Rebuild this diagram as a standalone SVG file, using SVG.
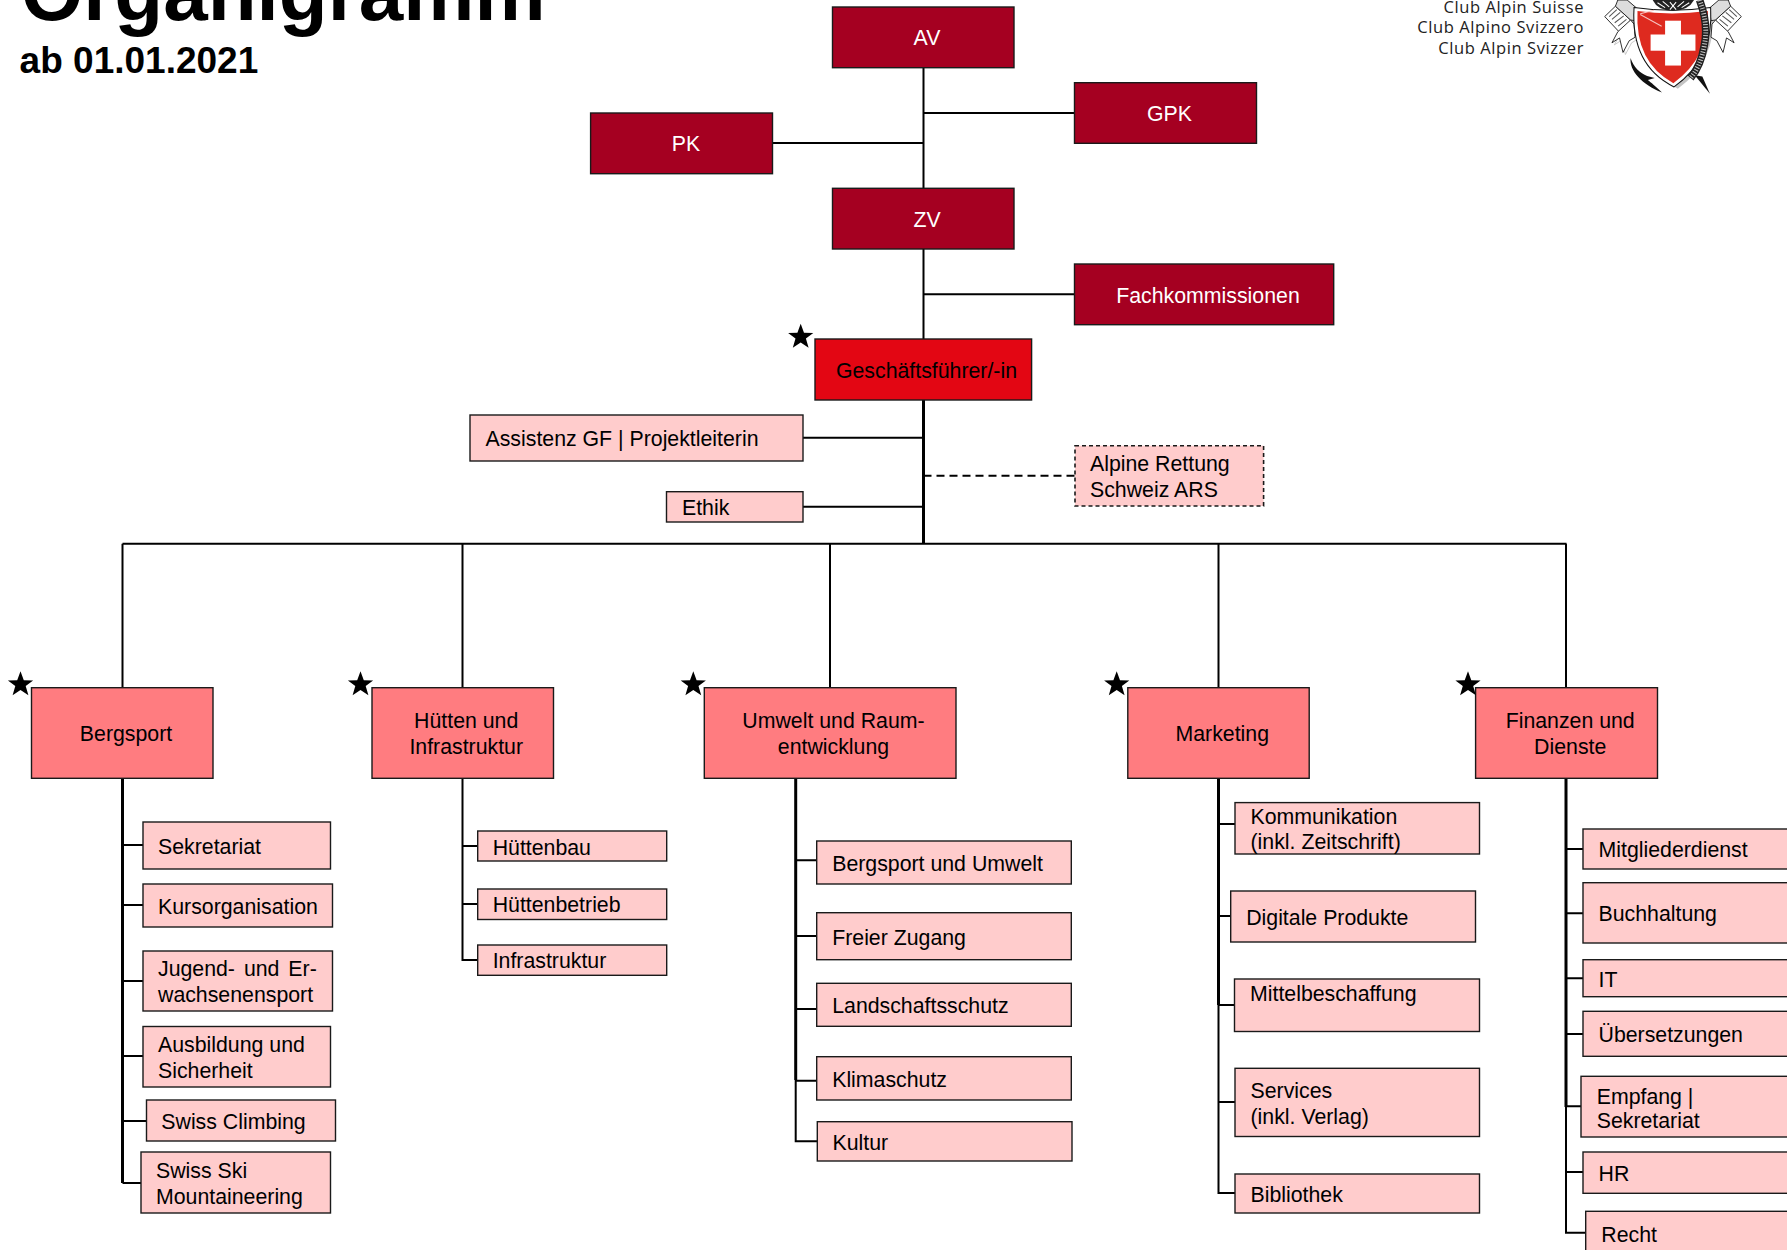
<svg xmlns="http://www.w3.org/2000/svg" width="1787" height="1250" viewBox="0 0 1787 1250">
<style>
text{font-family:"Liberation Sans",Arial,sans-serif;font-size:21.3px;fill:#000}
.c{text-anchor:middle}
.w{fill:#fff}
rect{stroke:#1a1a1a;stroke-width:1.4}
.top{fill:#A50021}
.gf{fill:#E30613}
.div{fill:#FF7C80}
.sub{fill:#FFCCCC}
.dash{stroke-dasharray:4 3;stroke-width:1.6}
#connectors path{fill:none;stroke:#000;stroke-width:2}
#connectors .thick{stroke-width:3}
#connectors .dashed{stroke-dasharray:8 5}
.logo-t{font-family:"Open Sans","Noto Sans",sans-serif;font-size:16.5px;letter-spacing:.58px;fill:#222;text-anchor:end}
.title{font-weight:bold}
</style>
<defs>
<polygon id="star" points="0,-13.2 3.3,-4.2 12.6,-4.1 5.2,1.6 7.9,10.8 0,5.4 -7.9,10.8 -5.2,1.6 -12.6,-4.1 -3.3,-4.2" fill="#000"/>
<g id="rib">
<path d="M47 48L78 18L122 58L96 100Z" fill="#fff" stroke="#111" stroke-width="2.5"/>
<path d="M85 0L112 0L140 24L135 60L122 58L78 18Z" fill="#ddd" stroke="#111" stroke-width="2.5"/>
<path d="M85 92L68 124L90 110L100 152L118 118L135 108L132 70L122 58Z" fill="#fff" stroke="#111" stroke-width="2.5"/>
<path d="M60 48L82 28M68 56L92 36M76 66L102 46M86 76L110 56" stroke="#555" stroke-width="3"/>
</g>
</defs>
<g id="title">
<text class="title" x="21" y="20" style="font-size:80px">Organigramm</text>
<text class="title" x="19.6" y="73" style="font-size:37px">ab 01.01.2021</text>
</g>
<g id="logo">
<text class="logo-t" x="1584" y="13">Club Alpin Suisse</text>
<text class="logo-t" x="1584" y="33.3">Club Alpino Svizzero</text>
<text class="logo-t" x="1584" y="53.5">Club Alpin Svizzer</text>
<g transform="translate(1588.5 0) scale(.345)">
<path d="M135 30Q240 45 352 30Q362 170 250 250Q130 190 135 30Z" fill="#c4c4c4" transform="translate(9 7)"/>
<use href="#rib" transform="translate(7 6)" opacity=".25"/>
<use href="#rib"/>
<use href="#rib" transform="matrix(-1 0 0 1 490 0)"/>
<path d="M122 168C118 205 155 245 213 268C192 248 182 240 172 232L192 226L170 220C150 212 130 195 122 168Z" fill="#111"/>
<path d="M308 218L352 272L330 222Z" fill="#111"/>
<path d="M132 22Q240 38 354 22Q364 170 248 252Q122 190 132 22Z" fill="#fff" stroke="#111" stroke-width="3"/>
<path d="M142 32Q240 46 346 32Q352 165 246 241Q134 180 142 32Z" fill="#DE2A1F"/>
<path d="M150 42L212 76M150 40L190 30" stroke="#f6c4c0" stroke-width="3" fill="none"/>
<rect x="180" y="100" width="130" height="47" fill="#fff" style="stroke:none"/>
<rect x="222" y="60" width="46" height="130" fill="#fff" style="stroke:none"/>
<path d="M322 0Q348 70 336 130Q326 190 296 226" fill="none" stroke="#222" stroke-width="22"/>
<path d="M322 0Q348 70 336 130Q326 190 296 226" fill="none" stroke="#fff" stroke-width="14" stroke-dasharray="3 5" opacity=".75"/>
<path d="M186 0Q200 30 245 32Q290 30 306 0Z" fill="#222"/>
<path d="M200 8L222 22M215 4L234 20M292 8L270 22M277 4L258 20M236 6L254 28M254 6L236 28" stroke="#fff" stroke-width="3" fill="none"/>
</g>
</g>
<g id="connectors">
<path d="M923.5 67V188M923.5 113H1074M772 143H923.5M923.5 249V339M923.5 294.3H1074"/>
<path class="thick" d="M923.5 400V544"/>
<path d="M803 437.7H923.5M803 506.7H923.5"/>
<path class="dashed" d="M923.5 475.7H1075"/>
<path d="M122.5 543.7H1566.5M122.5 543.7V688M462.5 543.7V688M830 543.7V688M1218.5 543.7V688M1566 543.7V688"/>
<path class="thick" d="M122.5 778V1183"/>
<path d="M122.5 845H143M122.5 905H143M122.5 981H143M122.5 1056H143M122.5 1121H146M122.5 1183H141"/>
<path d="M462.5 778V960H478M462.5 846H478M462.5 904H478"/>
<path class="thick" d="M795.7 778V1080"/>
<path d="M795.7 1080V1141.3H817M795.7 860.3H817M795.7 936H817M795.7 1009H817M795.7 1080.7H817"/>
<path class="thick" d="M1218.5 778V1005"/>
<path d="M1218.5 1005V1193H1235M1218.5 824H1235M1218.5 916H1231M1218.5 1005H1235M1218.5 1102H1235"/>
<path class="thick" d="M1566 778V1107"/>
<path d="M1566 1107V1232.7H1586M1566 849H1583M1566 913.3H1583M1566 978.3H1583M1566 1034H1583M1566 1106.3H1581M1566 1172H1583"/>
</g>
<g id="av"><rect class="top" x="832.5" y="7" width="181.5" height="60.7"/><text class="c w" x="927" y="44.7">AV</text></g>
<g id="gpk"><rect class="top" x="1074.5" y="82.7" width="182" height="60.6"/><text class="c w" x="1169.5" y="121">GPK</text></g>
<g id="pk"><rect class="top" x="590.6" y="113" width="181.9" height="60.7"/><text class="c w" x="686" y="150.7">PK</text></g>
<g id="zv"><rect class="top" x="832.5" y="188.3" width="181.5" height="60.7"/><text class="c w" x="927" y="226.7">ZV</text></g>
<g id="fachkommissionen"><rect class="top" x="1074.5" y="264" width="259.2" height="60.7"/><text class="c w" x="1208" y="302.7">Fachkommissionen</text></g>
<g id="gf"><rect class="gf" x="815" y="339" width="216.6" height="61"/><text class="c" x="926.5" y="378.3">Geschäftsführer/-in</text></g>
<g id="assistenz"><rect class="sub" x="470" y="415" width="333" height="46"/><text x="485.5" y="446">Assistenz GF | Projektleiterin</text></g>
<g id="ethik"><rect class="sub" x="666.5" y="491.7" width="136.5" height="30.3"/><text x="682" y="515">Ethik</text></g>
<g id="ars"><rect class="sub dash" x="1075" y="445.7" width="188.6" height="60.3"/><text x="1090" y="470.7">Alpine Rettung</text><text x="1090" y="496.7">Schweiz ARS</text></g>
<g id="bergsport"><rect class="div" x="31.5" y="687.7" width="181.5" height="90.6"/><text class="c" x="126" y="741">Bergsport</text></g>
<g id="huetten"><rect class="div" x="372" y="687.7" width="181.5" height="90.6"/><text class="c" x="466.2" y="727.7">Hütten und</text><text class="c" x="466.2" y="753.7">Infrastruktur</text></g>
<g id="umwelt"><rect class="div" x="704.3" y="687.7" width="251.7" height="90.6"/><text class="c" x="833.5" y="728.3">Umwelt und Raum-</text><text class="c" x="833.5" y="754.3">entwicklung</text></g>
<g id="marketing"><rect class="div" x="1127.8" y="687.7" width="181.4" height="90.6"/><text class="c" x="1222.3" y="741">Marketing</text></g>
<g id="finanzen"><rect class="div" x="1475.6" y="687.7" width="181.9" height="90.6"/><text class="c" x="1570.2" y="727.7">Finanzen und</text><text class="c" x="1570.2" y="753.7">Dienste</text></g>
<g id="sekretariat"><rect class="sub" x="143" y="822" width="187.5" height="47"/><text x="158" y="854">Sekretariat</text></g>
<g id="kursorganisation"><rect class="sub" x="143" y="884" width="189.5" height="43"/><text x="158" y="914">Kursorganisation</text></g>
<g id="jugend"><rect class="sub" x="143" y="951" width="189.5" height="60"/><text x="158" y="976" style="word-spacing:3px">Jugend- und Er-</text><text x="158" y="1002">wachsenensport</text></g>
<g id="ausbildung"><rect class="sub" x="143" y="1026.5" width="187.5" height="60.5"/><text x="158" y="1052">Ausbildung und</text><text x="158" y="1078">Sicherheit</text></g>
<g id="climbing"><rect class="sub" x="146.5" y="1100" width="189" height="41"/><text x="161.3" y="1129.3">Swiss Climbing</text></g>
<g id="ski"><rect class="sub" x="141" y="1152" width="189.5" height="61"/><text x="156" y="1178">Swiss Ski</text><text x="156" y="1204.3">Mountaineering</text></g>
<g id="huettenbau"><rect class="sub" x="477.7" y="831" width="189" height="30"/><text x="492.7" y="855.3">Hüttenbau</text></g>
<g id="huettenbetrieb"><rect class="sub" x="477.7" y="889" width="189" height="30.5"/><text x="492.7" y="912">Hüttenbetrieb</text></g>
<g id="infrastruktur"><rect class="sub" x="477.7" y="945" width="189" height="30.3"/><text x="492.7" y="968">Infrastruktur</text></g>
<g id="bergsport-umwelt"><rect class="sub" x="816.7" y="841" width="254.6" height="43"/><text x="832.2" y="870.7">Bergsport und Umwelt</text></g>
<g id="freier-zugang"><rect class="sub" x="816.7" y="912.7" width="254.6" height="47"/><text x="832.2" y="945">Freier Zugang</text></g>
<g id="landschaftsschutz"><rect class="sub" x="816.7" y="983.3" width="254.6" height="43"/><text x="832.2" y="1013.3">Landschaftsschutz</text></g>
<g id="klimaschutz"><rect class="sub" x="816.7" y="1056.7" width="254.6" height="43.3"/><text x="832.2" y="1086.7">Klimaschutz</text></g>
<g id="kultur"><rect class="sub" x="817.3" y="1121.7" width="254.7" height="39.3"/><text x="832.5" y="1150">Kultur</text></g>
<g id="kommunikation"><rect class="sub" x="1235" y="802.6" width="244.5" height="51.4"/><text x="1250.5" y="824">Kommunikation</text><text x="1250.5" y="849">(inkl. Zeitschrift)</text></g>
<g id="digitale"><rect class="sub" x="1230.7" y="891" width="244.8" height="51"/><text x="1246.2" y="925.3">Digitale Produkte</text></g>
<g id="mittel"><rect class="sub" x="1234.5" y="979" width="245" height="52.5"/><text x="1250" y="1001.4">Mittelbeschaffung</text></g>
<g id="services"><rect class="sub" x="1235" y="1068.3" width="244.5" height="68.2"/><text x="1250.5" y="1097.8">Services</text><text x="1250.5" y="1124">(inkl. Verlag)</text></g>
<g id="bibliothek"><rect class="sub" x="1235" y="1174" width="244.5" height="39"/><text x="1250.5" y="1202.3">Bibliothek</text></g>
<g id="mitgliederdienst"><rect class="sub" x="1583" y="829" width="215" height="40"/><text x="1598.5" y="856.7">Mitgliederdienst</text></g>
<g id="buchhaltung"><rect class="sub" x="1583" y="882.7" width="215" height="60.3"/><text x="1598.5" y="920.7">Buchhaltung</text></g>
<g id="it"><rect class="sub" x="1583" y="959.7" width="215" height="37"/><text x="1598.5" y="986.7">IT</text></g>
<g id="uebersetzungen"><rect class="sub" x="1583" y="1011.3" width="215" height="45"/><text x="1598.5" y="1041.7">Übersetzungen</text></g>
<g id="empfang"><rect class="sub" x="1581" y="1076.3" width="217" height="60.7"/><text x="1596.7" y="1104.3">Empfang |</text><text x="1596.7" y="1127.7">Sekretariat</text></g>
<g id="hr"><rect class="sub" x="1583" y="1152" width="215" height="41.3"/><text x="1598.5" y="1180.7">HR</text></g>
<g id="recht"><rect class="sub" x="1585.7" y="1211.3" width="215" height="60"/><text x="1601.3" y="1241.7">Recht</text></g>
<g id="stars">
<use href="#star" x="800.7" y="337"/>
<use href="#star" x="20.5" y="684.5"/>
<use href="#star" x="360.5" y="684.5"/>
<use href="#star" x="693.3" y="684.5"/>
<use href="#star" x="1116.7" y="684.5"/>
<use href="#star" x="1468" y="684.5"/>
</g>
</svg>
